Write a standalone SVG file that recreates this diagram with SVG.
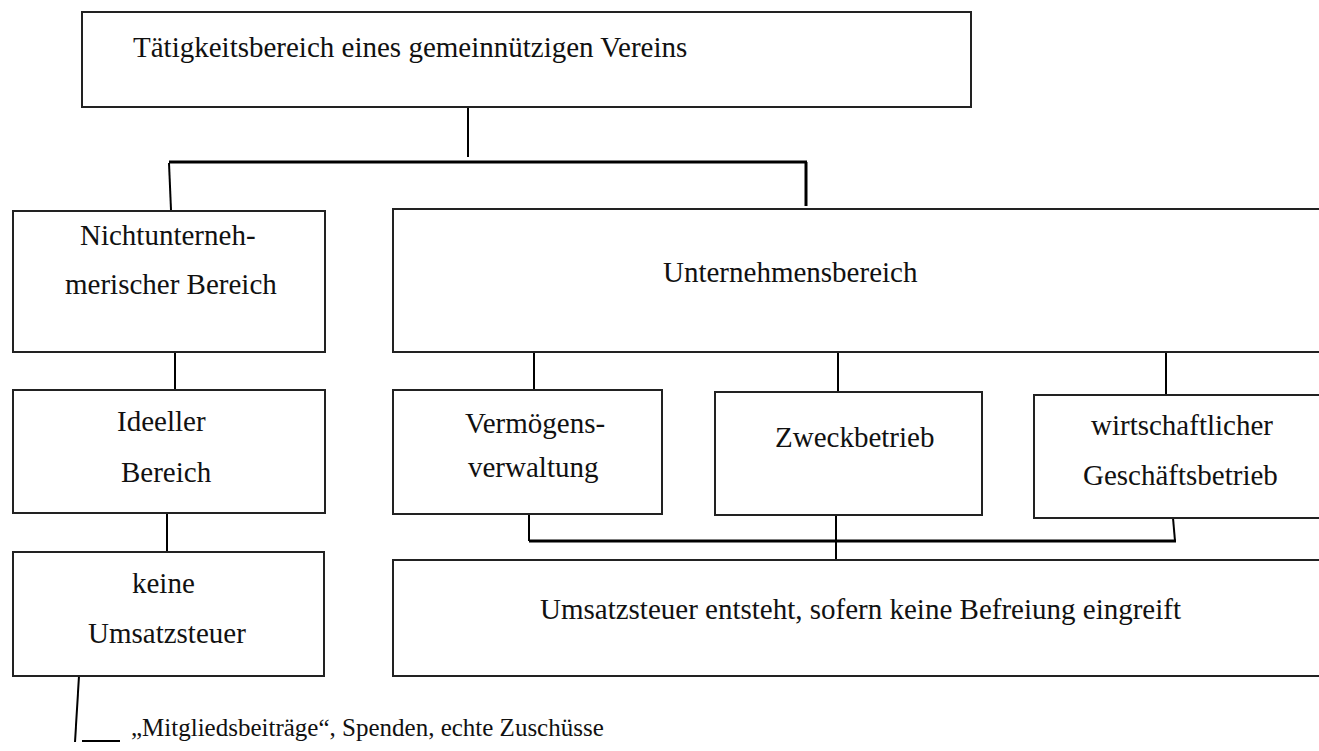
<svg xmlns="http://www.w3.org/2000/svg" width="1319" height="751" viewBox="0 0 1319 751">
<style>
.box{fill:#fff;stroke:#222;stroke-width:2}
.ln{stroke:#000;stroke-width:2;fill:none}
.th{stroke:#000;stroke-width:3;fill:none}
.t{font-family:"Liberation Serif","Times New Roman",serif;font-size:29px;fill:#111}
.note{font-family:"Liberation Serif","Times New Roman",serif;font-size:25px;fill:#111}
</style>
<rect width="1319" height="751" fill="#fff"/>
<g id="connectors">
<line class="ln" x1="468" y1="107" x2="468" y2="157"/>
<line class="th" x1="169" y1="162" x2="807" y2="162"/>
<line class="ln" x1="169" y1="163" x2="171" y2="210"/>
<line class="th" x1="806" y1="162" x2="806" y2="206"/>
<line class="ln" x1="175" y1="352" x2="175" y2="390"/>
<line class="ln" x1="167" y1="513" x2="167" y2="552"/>
<line class="ln" x1="534" y1="352" x2="534" y2="390"/>
<line class="ln" x1="838" y1="352" x2="838" y2="392"/>
<line class="ln" x1="1166" y1="352" x2="1166" y2="395"/>
<line class="ln" x1="529" y1="514" x2="529" y2="541"/>
<line class="ln" x1="836" y1="515" x2="836" y2="560"/>
<line class="ln" x1="1173" y1="518" x2="1175" y2="541"/>
<line class="th" x1="529" y1="541" x2="1176" y2="541"/>
<line class="ln" x1="79" y1="676" x2="75" y2="742"/>
<line class="ln" x1="82" y1="741" x2="120" y2="741"/>
</g>
<g id="n-top">
<rect class="box" x="82" y="12" width="889" height="95"/>
<text class="t" x="133" y="57">Tätigkeitsbereich eines gemeinnützigen Vereins</text>
</g>
<g id="n-nichtunternehmerisch">
<rect class="box" x="13" y="211" width="312" height="141"/>
<text class="t" x="80" y="245">Nichtunterneh-</text>
<text class="t" x="65" y="294">merischer Bereich</text>
</g>
<g id="n-unternehmensbereich">
<rect class="box" x="393" y="209" width="940" height="143"/>
<text class="t" x="663" y="282">Unternehmensbereich</text>
</g>
<g id="n-ideell">
<rect class="box" x="13" y="390" width="312" height="123"/>
<text class="t" x="117" y="431">Ideeller</text>
<text class="t" x="121" y="482">Bereich</text>
</g>
<g id="n-keine">
<rect class="box" x="13" y="552" width="311" height="124"/>
<text class="t" x="132" y="593">keine</text>
<text class="t" x="88" y="643">Umsatzsteuer</text>
</g>
<g id="n-vermoegen">
<rect class="box" x="393" y="390" width="269" height="124"/>
<text class="t" x="465" y="433">Vermögens-</text>
<text class="t" x="468" y="477">verwaltung</text>
</g>
<g id="n-zweck">
<rect class="box" x="715" y="392" width="267" height="123"/>
<text class="t" x="775" y="447">Zweckbetrieb</text>
</g>
<g id="n-wirtschaft">
<rect class="box" x="1034" y="395" width="300" height="123"/>
<text class="t" x="1091" y="435">wirtschaftlicher</text>
<text class="t" x="1083" y="485">Geschäftsbetrieb</text>
</g>
<g id="n-ust">
<rect class="box" x="393" y="560" width="940" height="116"/>
<text class="t" x="540" y="619">Umsatzsteuer entsteht, sofern keine Befreiung eingreift</text>
</g>
<g id="n-note">
<text class="note" x="131" y="736">„Mitgliedsbeiträge“, Spenden, echte Zuschüsse</text>
</g>
</svg>
